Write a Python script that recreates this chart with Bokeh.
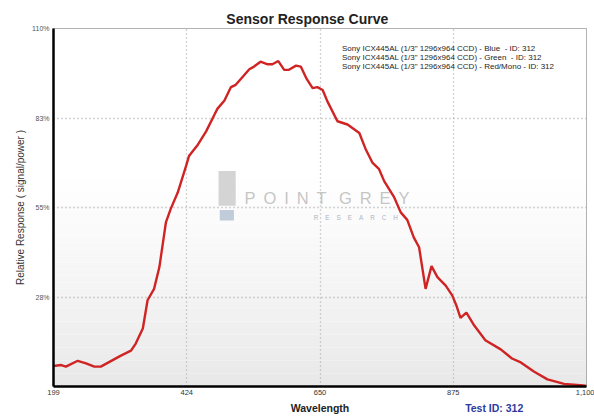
import numpy as np
from bokeh.plotting import figure
from bokeh.models import Range1d, FixedTicker, Label, Legend, LegendItem
from bokeh.embed import file_html
from bokeh.resources import INLINE

# ---------------- data ----------------
wavelength = [199, 212, 220, 240, 254, 268, 279, 299, 313, 330,
              338, 350, 358, 369, 378, 389, 397, 409, 423, 428,
              443, 457, 471, 476, 488, 499, 507, 519, 530, 538,
              549, 561, 569, 579, 589, 597, 609, 617, 627, 637,
              645, 654, 662, 679, 696, 716, 727, 738, 749, 758,
              775, 786, 797, 808, 817, 828, 838, 848, 862, 873,
              880, 887, 897, 910, 929, 955, 974, 989, 1011, 1034,
              1062, 1095, 1100]
response = [6.3, 6.6, 6.1, 7.9, 7.1, 6.1, 6.1, 8.1, 9.5, 11.0,
            13.2, 17.8, 26.5, 30.0, 36.7, 50.4, 54.5, 59.6, 67.7, 70.8,
            74.3, 78.4, 83.5, 85.3, 87.9, 92.0, 92.7, 95.2, 97.5, 98.3,
            99.8, 99.0, 99.0, 100.0, 97.3, 97.3, 98.6, 98.3, 94.5, 91.7,
            92.0, 91.1, 87.6, 81.5, 80.5, 77.9, 72.8, 68.8, 66.9, 63.1,
            58.1, 53.5, 51.2, 45.8, 42.8, 30.0, 37.0, 33.6, 31.0, 28.0,
            24.9, 21.1, 22.7, 18.8, 14.2, 11.4, 8.6, 7.4, 4.6, 2.2,
            0.8, 0.3, 0.2]

x_ticks = [199, 424.25, 649.5, 874.75, 1100]
x_tick_labels = ["199", "424", "650", "875", "1,100"]
y_ticks = [0, 27.5, 55, 82.5, 110]
y_tick_labels = ["", "28%", "55%", "83%", "110%"]

series_labels = ['Sony ICX445AL (1/3" 1296x964 CCD) - Blue\u00a0 - ID: 312',
                 'Sony ICX445AL (1/3" 1296x964 CCD) - Green\u00a0 - ID: 312',
                 'Sony ICX445AL (1/3" 1296x964 CCD) - Red/Mono - ID: 312']
series_colors = ["#1c1ca8", "#1f4f1f", "#d02424"]

title_text = "Sensor Response Curve"
x_label = "Wavelength"
y_label = "Relative Response ( signal/power )"
test_id = "Test ID: 312"
test_id_pos = 944
title_pos = 628

FONT = "Liberation Sans"
X0, X1 = 199, 1100
Y0, Y1 = 0, 110
NB = "\u00a0"
GAP = "\u00a0\u2009"

p = figure(width=594, height=416, output_backend="svg", toolbar_location=None,
           x_range=Range1d(X0, X1), y_range=Range1d(Y0, Y1),
           min_border_left=53, min_border_right=8, min_border_top=28,
           min_border_bottom=28)
p.background_fill_color = "white"
p.border_fill_color = "white"
p.outline_line_color = "#9a9a9a"
p.outline_line_width = 1
p.title.visible = False

# gradient background (white at top, light grey at bottom)
edges = np.linspace(Y0, Y1, 56)
mids = (edges[:-1] + edges[1:]) / 2
shades = [int(round(231 + 24 * min(1.0, m / 65.0) ** 0.8)) for m in mids]
cols = ["#%02x%02x%02x" % (s, s, s) for s in shades]
bg = p.quad(left=X0, right=X1, bottom=edges[:-1], top=edges[1:],
            fill_color=cols, line_color=None)
bg.level = "image"

# watermark
p.quad(left=[478], right=[507], bottom=[55.5], top=[66.2],
       fill_color="#c9c9c9", line_color=None, fill_alpha=0.8)
p.quad(left=[480], right=[504], bottom=[51.0], top=[54.2],
       fill_color="#b3c0d2", line_color=None, fill_alpha=0.8)
p.add_layout(Label(x=522, y=55.2,
                   text=GAP.join("POINT") + GAP + NB + GAP.join("GREY"),
                   text_font=FONT, text_font_size="16.5px",
                   text_color="#bdbdbd", text_alpha=0.9))
p.add_layout(Label(x=639, y=50.8,
                   text=(NB * 4).join("RESEARCH"),
                   text_font=FONT, text_font_size="6.3px",
                   text_color="#aab4c4"))

# curve
p.line(wavelength, response, line_color=series_colors[2], line_width=2.4)

# legend (square swatches)
items = []
for lab, col in zip(series_labels, series_colors):
    r = p.scatter(x=[], y=[], marker="square", fill_color=col, line_color=col)
    items.append(LegendItem(label=lab, renderers=[r]))
legend = Legend(items=items, location=(278, 315), padding=0, margin=0,
                spacing=-2, glyph_height=8, glyph_width=9, label_height=8,
                label_standoff=2, label_text_font=FONT,
                label_text_font_size="8px", label_text_color="#1e1e1e",
                border_line_alpha=0, background_fill_alpha=0)
p.add_layout(legend)

# grids
for g in (p.xgrid, p.ygrid):
    g.grid_line_color = "#a8a8a8"
    g.grid_line_dash = "1 3"
    g.grid_line_width = 1.3

# main axes
xax = p.xaxis[0]
yax = p.yaxis[0]
xax.ticker = FixedTicker(ticks=x_ticks)
xax.major_label_overrides = dict(zip(x_ticks, x_tick_labels))
yax.ticker = FixedTicker(ticks=y_ticks)
yax.major_label_overrides = dict(zip(y_ticks, y_tick_labels))
for ax in (xax, yax):
    ax.axis_line_color = "black"
    ax.axis_line_width = 2.5
    ax.major_tick_in = 0
    ax.major_tick_out = 0
    ax.minor_tick_line_color = None
    ax.major_label_text_font = FONT
xax.major_label_text_font_size = "7.5px"
xax.major_label_text_color = "#333333"
xax.major_label_standoff = 3
xax.axis_label = x_label
xax.axis_label_text_font = FONT
xax.axis_label_text_font_size = "10.5px"
xax.axis_label_text_font_style = "bold"
xax.axis_label_text_color = "#222222"
xax.axis_label_standoff = 4
yax.major_label_text_font_size = "7px"
yax.major_label_text_color = "#555555"
yax.major_label_standoff = 4
yax.axis_label = y_label
yax.axis_label_text_font = FONT
yax.axis_label_text_font_size = "10px"
yax.axis_label_text_font_style = "normal"
yax.axis_label_text_color = "#333333"
yax.axis_label_standoff = 3

# title and "Test ID" note live in the top side panel (not clipped to the frame)
p.add_layout(Label(x=title_pos, y=113.0, text=title_text, text_align="center",
                   text_baseline="alphabetic", text_font=FONT,
                   text_font_size="14px", text_font_style="bold",
                   text_color="#222222"), "above")
p.add_layout(Label(x=test_id_pos, y=-6.7, text=test_id, text_align="center",
                   text_baseline="middle", text_font=FONT,
                   text_font_size="10.5px", text_font_style="bold",
                   text_color="#2d3aa0"), "above")

open("out.html", "w").write(file_html(p, INLINE))
